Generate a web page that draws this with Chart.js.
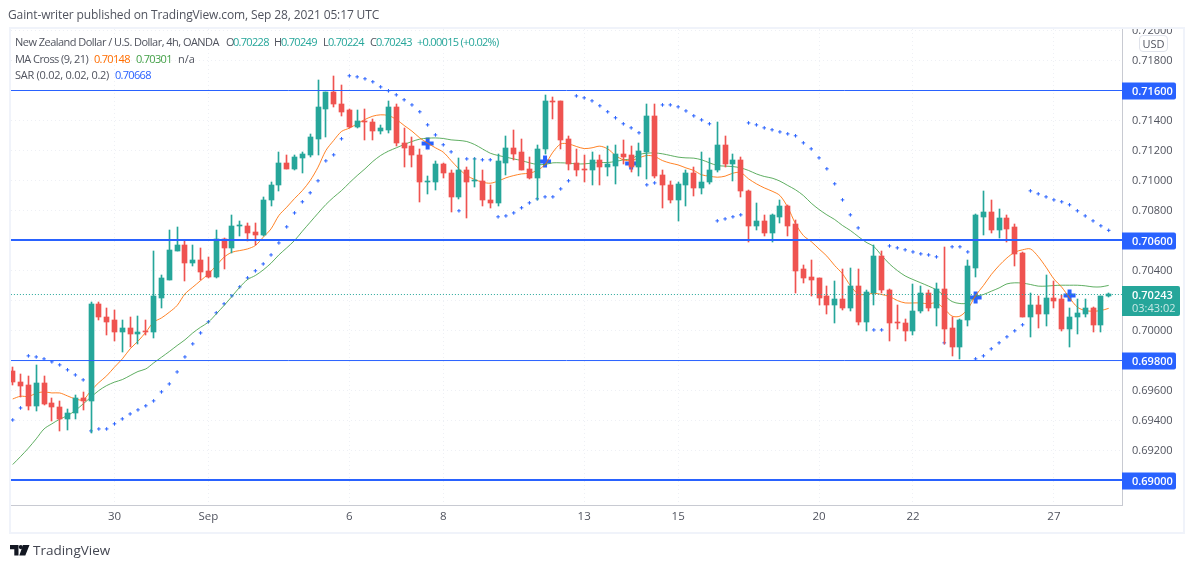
<!DOCTYPE html>
<html>
  <head>
    <title>NZDUSD 4h</title>
    <script src="https://cdn.jsdelivr.net/npm/chart.js@4/dist/chart.umd.js"></script>
    <style>
      body { margin: 0; background: #fff; }
      #wrap { position: relative; width: 1194px; height: 568px; overflow: hidden; font: 11px 'Open Sans', sans-serif; color: #50535e; }
      #wrap span { position: absolute; white-space: nowrap; line-height: 16px; }
      canvas { position: absolute; left: 0; top: 0; }
      .teal { color: #26a69a; }
      .num { letter-spacing: -0.7px; }
      #usd { position: absolute; left: 1139px; top: 35px; width: 27px; height: 15px; border: 1px solid #e0e3eb; border-radius: 4px; background: #fff; text-align: center; line-height: 15px; font-size: 11px; }
    </style>
  </head>

  <body>
    <div id="wrap">
      <canvas id="canvas" width="1194" height="568"></canvas>
      <span style="left:8px;top:7px;font-size:12px;letter-spacing:-0.125px">Gaint-writer published on TradingView.com, Sep 28, 2021 05:17 UTC</span>
      <span style="left:15px;top:34px;letter-spacing:-0.53px">New Zealand Dollar / U.S. Dollar, 4h, OANDA</span>
      <span style="left:226px;top:34px">O</span><span class="teal num" style="left:233px;top:34px">0.70228</span>
      <span style="left:274px;top:34px">H</span><span class="teal num" style="left:281px;top:34px">0.70249</span>
      <span style="left:323px;top:34px">L</span><span class="teal num" style="left:328px;top:34px">0.70224</span>
      <span style="left:370px;top:34px">C</span><span class="teal num" style="left:376px;top:34px">0.70243</span>
      <span class="teal" style="left:417px;top:34px;letter-spacing:-0.7px">+0.00015 (+0.02%)</span>
      <span style="left:15px;top:51px;letter-spacing:-0.56px">MA Cross (9, 21)</span>
      <span class="num" style="left:94px;top:51px;color:#ff6d00">0.70148</span>
      <span class="num" style="left:136px;top:51px;color:#43a047">0.70301</span>
      <span style="left:178px;top:51px">n/a</span>
      <span style="left:15px;top:67px;letter-spacing:-0.26px">SAR (0.02, 0.02, 0.2)</span>
      <span class="num" style="left:115px;top:67px;color:#2962ff">0.70668</span>
      <div id="usd">USD</div>
      <svg style="position:absolute;left:10px;top:545px" width="20" height="11" viewBox="0 0 20 11">
        <path fill="#131722" d="M0 0h8.5v10.5h-4.2v-6.3h-4.3zM13 0h6.5l-4.2 10.5h-6z"/>
        <circle fill="#131722" cx="10.8" cy="2.1" r="2.1"/>
      </svg>
      <span style="left:33px;top:542px;font-size:13.5px;color:#434651">TradingView</span>
    </div>
    <script>
      const xTickIndex = [13, 25, 43, 55, 73, 85, 103, 115, 133];
      const xTickLabels = ['30', 'Sep', '6', '8', '13', '15', '20', '22', '27'];
      const priceTicks = [0.69, 0.692, 0.694, 0.696, 0.698, 0.7, 0.702, 0.704, 0.706, 0.708, 0.71, 0.712, 0.714, 0.716, 0.718, 0.72];
      const levels = [0.716, 0.706, 0.698, 0.69];
      const lastPrice = 0.70243;
      const countdown = '03:43:02';

      const opens = [
        0.69733,0.6966,0.6964,0.695,0.69649,0.6952,0.69493,0.69407,0.69447,0.69547,
        0.69527,0.7018,0.70093,0.70067,0.69987,0.7002,0.6998,0.69993,0.69987,0.7022,
        0.7034,0.70533,0.70573,0.70453,0.70473,0.704,0.7036,0.70607,0.70547,0.70696,
        0.707,0.7066,0.7064,0.70867,0.70967,0.7112,0.7108,0.71153,0.71173,0.7128,
        0.7148,0.71587,0.71513,0.71467,0.7136,0.714,0.71393,0.71327,0.7134,0.71493,
        0.71253,0.71227,0.71173,0.70987,0.70993,0.71107,0.71053,0.70887,0.71067,0.70996,
        0.71,0.70873,0.70847,0.7112,0.7122,0.71187,0.7108,0.7102,0.71207,0.71527,
        0.71527,0.7128,0.7112,0.71073,0.71067,0.7114,0.71087,0.711,0.7118,0.71167,
        0.71087,0.71193,0.71433,0.7104,0.70973,0.70873,0.70973,0.71053,0.70953,0.70987,
        0.71067,0.7124,0.71113,0.7114,0.70933,0.707,0.70733,0.70647,0.7076,0.70827,
        0.70707,0.70407,0.7036,0.70347,0.70227,0.70173,0.70207,0.70147,0.703,0.7006,
        0.70253,0.705,0.70273,0.7006,0.70053,0.7,0.70127,0.70253,0.70147,0.7028,
        0.7002,0.69887,0.70067,0.7042,0.7076,0.70793,0.70673,0.70747,0.70687,0.7052,
        0.70093,0.70167,0.70107,0.7022,0.70207,0.70007,0.70087,0.70113,0.70147,0.7004,
        0.70228
      ];
      const highs = [
        0.6976,0.69707,0.697,0.69767,0.697,0.69547,0.69533,0.6948,0.69567,0.69587,
        0.70187,0.70187,0.70147,0.7014,0.70073,0.70087,0.701,0.70073,0.70527,0.70373,
        0.70667,0.70687,0.706,0.70567,0.70553,0.70487,0.70673,0.7062,0.70773,0.70727,
        0.7072,0.7072,0.70893,0.70987,0.71193,0.71173,0.71173,0.71193,0.71307,0.71667,
        0.7159,0.717,0.7164,0.7148,0.71467,0.7148,0.71413,0.71367,0.71533,0.71507,
        0.71353,0.71287,0.71213,0.71027,0.71133,0.7112,0.71073,0.71147,0.71087,0.71153,
        0.71073,0.70973,0.7118,0.713,0.7134,0.7128,0.7116,0.7124,0.71567,0.7156,
        0.7153,0.713,0.71207,0.71167,0.71193,0.71167,0.71227,0.7124,0.71273,0.71233,
        0.71253,0.71507,0.71507,0.71067,0.71,0.70987,0.71073,0.71093,0.71187,0.71147,
        0.71387,0.713,0.7118,0.7116,0.7094,0.70853,0.70767,0.70775,0.70873,0.7084,
        0.7074,0.7044,0.70467,0.7035,0.703,0.70327,0.70413,0.7042,0.70413,0.70273,
        0.70567,0.70527,0.7028,0.70167,0.7008,0.70313,0.703,0.70273,0.7032,0.7056,
        0.70087,0.7008,0.70467,0.7078,0.70933,0.70873,0.70807,0.70767,0.70707,0.70525,
        0.70253,0.70233,0.70373,0.70333,0.7024,0.70147,0.70207,0.70213,0.7016,0.70233,
        0.70249
      ];
      const lows = [
        0.6964,0.6956,0.69473,0.69462,0.69504,0.694,0.69327,0.6934,0.69407,0.69467,
        0.6932,0.70067,0.69967,0.69927,0.6986,0.69893,0.69911,0.69973,0.69953,0.70147,
        0.7034,0.70527,0.70333,0.70433,0.7034,0.70353,0.70353,0.70413,0.7052,0.70633,
        0.706,0.70567,0.70633,0.70827,0.70933,0.7108,0.71067,0.71053,0.71156,0.71167,
        0.71287,0.71493,0.71427,0.71347,0.71347,0.71267,0.71267,0.71313,0.7132,0.71227,
        0.71093,0.71093,0.7086,0.70907,0.7094,0.7102,0.70793,0.7088,0.70753,0.7096,
        0.70827,0.7082,0.70833,0.7104,0.7114,0.71067,0.71013,0.70873,0.7118,0.71407,
        0.71207,0.71067,0.71027,0.70993,0.70973,0.70967,0.71033,0.7098,0.71113,0.7106,
        0.71033,0.71013,0.7102,0.7082,0.70853,0.70727,0.70827,0.709,0.70907,0.7098,
        0.7106,0.71093,0.71,0.70893,0.70587,0.70673,0.70627,0.70587,0.7072,0.70627,
        0.70247,0.7032,0.70233,0.70167,0.70107,0.70047,0.7014,0.70127,0.7004,0.7,
        0.70173,0.70253,0.69933,0.70013,0.69933,0.69967,0.7012,0.70133,0.70027,0.69913,
        0.69833,0.69807,0.70033,0.7036,0.7064,0.70653,0.7062,0.70587,0.70427,0.70087,
        0.6996,0.7002,0.70033,0.70153,0.7,0.69893,0.6998,0.70093,0.69993,0.69987,
        0.70224
      ];
      const closes = [
        0.69656,0.69633,0.695,0.69649,0.69511,0.69487,0.69407,0.69453,0.69547,0.69527,
        0.7018,0.70087,0.7006,0.69987,0.7002,0.6998,0.69993,0.69987,0.70227,0.70347,
        0.7054,0.70573,0.70453,0.70473,0.70393,0.7036,0.70607,0.70547,0.707,0.707,
        0.70653,0.7064,0.70873,0.70973,0.7112,0.7108,0.7116,0.7118,0.71287,0.71487,
        0.71587,0.71507,0.7146,0.7136,0.714,0.71387,0.71327,0.71347,0.71493,0.71247,
        0.7122,0.71167,0.70987,0.71,0.71107,0.71047,0.70887,0.71067,0.70993,0.71,
        0.70867,0.70847,0.71127,0.7122,0.7118,0.71073,0.7102,0.71213,0.71527,0.71522,
        0.71273,0.71113,0.71067,0.71069,0.7114,0.71087,0.71107,0.7118,0.7116,0.71087,
        0.712,0.71433,0.71033,0.70967,0.70873,0.7098,0.71053,0.70953,0.70993,0.71073,
        0.7124,0.71113,0.7114,0.70927,0.707,0.70733,0.70647,0.70767,0.70827,0.707,
        0.704,0.70353,0.7034,0.7022,0.70173,0.70207,0.70147,0.703,0.7006,0.7026,
        0.705,0.70267,0.70053,0.70047,0.7,0.70133,0.70253,0.70147,0.7028,0.70013,
        0.69887,0.70073,0.70427,0.70767,0.70793,0.70673,0.70747,0.7068,0.70513,0.70093,
        0.70167,0.70107,0.7022,0.702,0.70007,0.70093,0.7012,0.70147,0.7004,0.70227,
        0.70243
      ];
      const ma9 = [
        0.69544,0.69562,0.6956,0.69582,0.69591,0.69584,0.69584,0.69564,0.69544,0.69538,
        0.696,0.69653,0.69698,0.69756,0.69811,0.69878,0.69929,0.69989,0.70056,0.70084,
        0.70122,0.70167,0.70244,0.70289,0.70333,0.70378,0.70433,0.70489,0.70522,0.70533,
        0.70544,0.70567,0.70622,0.70678,0.70767,0.70822,0.7088,0.70933,0.71,0.71089,
        0.712,0.71267,0.71327,0.71349,0.71378,0.71407,0.71429,0.71438,0.71433,0.71407,
        0.71367,0.71329,0.71284,0.71249,0.71218,0.71189,0.71133,0.71078,0.71033,0.71007,
        0.70989,0.70982,0.70996,0.71018,0.71033,0.71044,0.71049,0.71067,0.71107,0.71189,
        0.71244,0.71244,0.71227,0.71213,0.71218,0.71229,0.71211,0.71167,0.71138,0.71133,
        0.71151,0.71167,0.7116,0.71133,0.71116,0.71104,0.71084,0.71067,0.71038,0.71029,
        0.71022,0.71029,0.71049,0.71053,0.71011,0.70978,0.70951,0.70929,0.709,0.70822,
        0.70711,0.70633,0.70593,0.70544,0.70496,0.70433,0.70378,0.703,0.70244,0.7024,
        0.70249,0.7024,0.70227,0.702,0.70184,0.70184,0.70184,0.70178,0.70184,0.70144,
        0.70096,0.70096,0.70144,0.70233,0.703,0.70373,0.70433,0.70484,0.70522,0.70538,
        0.70544,0.70493,0.70422,0.70344,0.70289,0.70218,0.70156,0.70133,0.70129,0.70133,
        0.70148
      ];
      const ma21 = [
        0.69107,0.6916,0.69216,0.69278,0.69344,0.69378,0.69409,0.69433,0.69467,0.69511,
        0.69556,0.696,0.69633,0.69656,0.69673,0.697,0.69727,0.69744,0.69784,0.69822,
        0.6986,0.699,0.69938,0.69984,0.70022,0.70056,0.70111,0.70167,0.70227,0.70289,
        0.7034,0.70367,0.70404,0.70449,0.70504,0.70551,0.706,0.70662,0.70722,0.70782,
        0.7084,0.70889,0.70933,0.70984,0.71033,0.71078,0.71127,0.71167,0.71196,0.71218,
        0.7124,0.7126,0.71276,0.71282,0.71284,0.7128,0.71271,0.71267,0.7126,0.7124,
        0.71211,0.71182,0.71167,0.71156,0.71144,0.71133,0.71118,0.71107,0.71107,0.71118,
        0.71118,0.71116,0.71111,0.71111,0.71116,0.7112,0.7112,0.71127,0.71138,0.71144,
        0.71173,0.71182,0.71184,0.71178,0.71167,0.71156,0.71151,0.71149,0.71138,0.71118,
        0.711,0.71096,0.71093,0.71084,0.71067,0.71044,0.71027,0.71016,0.70996,0.70967,
        0.70938,0.709,0.70849,0.70807,0.70771,0.7074,0.707,0.70667,0.70627,0.70589,
        0.7056,0.705,0.70444,0.704,0.70364,0.7034,0.70318,0.70296,0.70271,0.70233,
        0.70193,0.7018,0.70184,0.70227,0.7024,0.70262,0.70284,0.70311,0.70318,0.70316,
        0.70307,0.70296,0.70296,0.703,0.70302,0.70302,0.70302,0.70298,0.70291,0.70291,
        0.70301
      ];
      const sar = [
        0.69404,0.69484,0.69831,0.69824,0.69811,0.69791,0.69771,0.69738,0.69704,0.69671,
        0.69331,0.69344,0.69344,0.69378,0.69411,0.69444,0.69471,0.69498,0.69531,0.69591,
        0.69644,0.69724,0.69824,0.69911,0.69984,0.70058,0.70118,0.70178,0.70231,0.70291,
        0.70351,0.70398,0.70444,0.70504,0.70584,0.70691,0.70784,0.70858,0.70918,0.70998,
        0.71131,0.71171,0.71278,0.71698,0.71691,0.71678,0.71658,0.71624,0.71598,0.71571,
        0.71538,0.71504,0.71458,0.71371,0.71304,0.71238,0.71191,0.70798,0.71144,0.71144,
        0.71138,0.71138,0.70758,0.70764,0.70784,0.70818,0.70851,0.70878,0.70891,0.70891,
        0.70944,0.70998,0.71564,0.71551,0.71531,0.71498,0.71458,0.71418,0.71378,0.71351,
        0.71318,0.70971,0.70984,0.71504,0.71504,0.71491,0.71464,0.71431,0.71404,0.71378,
        0.70731,0.70744,0.70758,0.70771,0.71384,0.71371,0.71351,0.71338,0.71324,0.71311,
        0.71298,0.71251,0.71211,0.71151,0.71078,0.70978,0.70871,0.70771,0.70684,null,
        0.70004,0.70004,0.70564,0.70551,0.70538,0.70524,0.70511,0.70504,0.70491,0.69918,
        0.70558,0.70558,0.70524,0.69811,0.69831,0.69878,0.69918,0.69958,0.69998,0.70038,
        0.70931,0.70911,0.70891,0.70871,0.70858,0.70838,0.70798,0.70764,0.70731,0.70698,
        0.70668
      ];
      const crossIndex = [53, 68, 79, 123, 135];
      const crossPrice = [0.71247, 0.71127, 0.71113, 0.7022, 0.70233];

      const UP = '#26a69a';
      const DOWN = '#ef5350';
      const BLUE = '#2962ff';
      const candleColors = closes.map((c, i) => (c >= opens[i] ? UP : DOWN));
      const toPoints = (arr) => arr.map((y, x) => ({ x: x, y: y }));

      const levelLine = (price, width) => ({
        type: 'line',
        data: [{ x: -1, y: price }, { x: 150, y: price }],
        borderColor: BLUE,
        borderWidth: width,
        pointRadius: 0,
        nudge: width === 2 ? -0.5 : 0,
        order: 0,
      });

      // snap candles to whole pixels, the way the original renderer does
      const crisp = {
        id: 'crisp',
        beforeDatasetsDraw(chart) {
          chart.data.datasets.forEach((ds, i) => {
            if (ds.type !== 'bar') return;
            chart.getDatasetMeta(i).data.forEach((el) => {
              el.x = Math.floor(el.x) + 0.5;
              el.y = Math.round(el.y);
              el.base = Math.round(el.base);
            });
          });
        },
        beforeDatasetDraw(chart, args) {
          const n = chart.data.datasets[args.index].nudge;
          if (n) {
            chart.ctx.save();
            chart.ctx.translate(0, n);
          }
        },
        afterDatasetDraw(chart, args) {
          if (chart.data.datasets[args.index].nudge) chart.ctx.restore();
        },
      };

      // price tags on the axis, and the frame around the pane
      const axisTags = {
        id: 'axisTags',
        afterDraw(chart) {
          const c = chart.ctx;
          const y = chart.scales.y;
          const left = chart.chartArea.right;
          c.save();
          c.textBaseline = 'middle';
          levels.forEach((p) => {
            const py = Math.round(y.getPixelForValue(p));
            c.fillStyle = BLUE;
            c.beginPath();
            c.roundRect(left, py - 8.5, 54, 17, [0, 2, 2, 0]);
            c.fill();
            c.fillStyle = '#fff';
            c.font = "600 11px 'Open Sans'";
            c.fillText(p.toFixed(5), left + 10, py + 0.5);
          });
          const py = y.getPixelForValue(lastPrice);
          c.fillStyle = UP;
          c.beginPath();
          c.roundRect(left, py - 8, 58, 30, [0, 2, 2, 0]);
          c.fill();
          c.fillStyle = '#fff';
          c.fillText(lastPrice.toFixed(5), left + 10, py + 1.5);
          c.font = "11px 'Open Sans'";
          c.fillStyle = 'rgba(255,255,255,0.75)';
          c.fillText(countdown, left + 10, py + 14.5);
          c.fillStyle = '#fff';
          c.fillRect(1122, 0, 72, 27);
          c.strokeStyle = '#f0f3fa';
          c.lineWidth = 2;
          c.strokeRect(10, 28, 1174, 505);
          c.restore();
        },
      };

      new Chart(document.getElementById('canvas').getContext('2d'), {
        type: 'bar',
        data: {
          datasets: [
            levelLine(levels[0], 1),
            levelLine(levels[1], 2),
            levelLine(levels[2], 1),
            levelLine(levels[3], 2),
            {
              type: 'line',
              data: [{ x: -1, y: lastPrice }, { x: 150, y: lastPrice }],
              borderColor: UP,
              borderWidth: 1,
              borderDash: [1, 2],
              pointRadius: 0,
              nudge: 0.45,
              order: 0,
            },
            {
              type: 'bar',
              data: opens.map((o, i) => ({ x: i, y: [o, closes[i]] })),
              backgroundColor: candleColors,
              barThickness: 5,
              minBarLength: 1,
              grouped: false,
              order: 1,
            },
            {
              type: 'bar',
              data: lows.map((l, i) => ({ x: i, y: [l, highs[i]] })),
              backgroundColor: candleColors,
              barThickness: 1,
              grouped: false,
              order: 2,
            },
            {
              type: 'line',
              data: toPoints(ma9),
              borderColor: 'rgba(255,109,0,0.85)',
              borderWidth: 1,
              tension: 0.3,
              pointRadius: 0,
              order: 3,
            },
            {
              type: 'line',
              data: toPoints(ma21),
              borderColor: 'rgba(67,160,71,0.85)',
              borderWidth: 1,
              tension: 0.3,
              pointRadius: 0,
              order: 3,
            },
            {
              type: 'line',
              data: toPoints(sar),
              showLine: false,
              pointStyle: 'cross',
              pointRadius: 1.8,
              pointBorderWidth: 1,
              pointBorderColor: BLUE,
              order: 3,
            },
            {
              type: 'line',
              data: crossIndex.map((x, i) => ({ x: x, y: crossPrice[i] })),
              showLine: false,
              pointStyle: 'cross',
              pointRadius: 6,
              pointBorderWidth: 4,
              pointBorderColor: BLUE,
              order: 4,
            },
          ],
        },
        options: {
          responsive: false,
          animation: false,
          layout: { padding: { left: 11, top: 29, right: 9, bottom: 35 } },
          plugins: { legend: { display: false }, tooltip: { enabled: false } },
          scales: {
            x: {
              type: 'linear',
              offset: false,
              min: -0.22,
              max: 141.7,
              afterBuildTicks: (axis) => {
                axis.ticks = xTickIndex.map((v) => ({ value: v }));
              },
              afterFit: (axis) => {
                axis.height = 28;
              },
              grid: { color: '#eef0f5', drawTicks: false, offset: false },
              border: { color: '#c8cad2', dash: [1, 3] },
              ticks: {
                autoSkip: false,
                maxRotation: 0,
                padding: 5,
                color: '#50535e',
                font: { family: 'Open Sans', size: 11.5 },
                callback: (v) => xTickLabels[xTickIndex.indexOf(v)],
              },
            },
            y: {
              position: 'right',
              min: 0.68837,
              max: 0.7201,
              afterBuildTicks: (axis) => {
                axis.ticks = priceTicks.map((v) => ({ value: v }));
              },
              afterFit: (axis) => {
                axis.width = 63;
              },
              grid: { color: '#eef0f5', drawTicks: false },
              border: { color: '#c8cad2', dash: [1, 3] },
              ticks: {
                padding: 10,
                color: '#50535e',
                font: { family: 'Open Sans', size: 11 },
                callback: (v) => v.toFixed(5),
              },
            },
          },
        },
        plugins: [crisp, axisTags],
      });
    </script>
  </body>
</html>
